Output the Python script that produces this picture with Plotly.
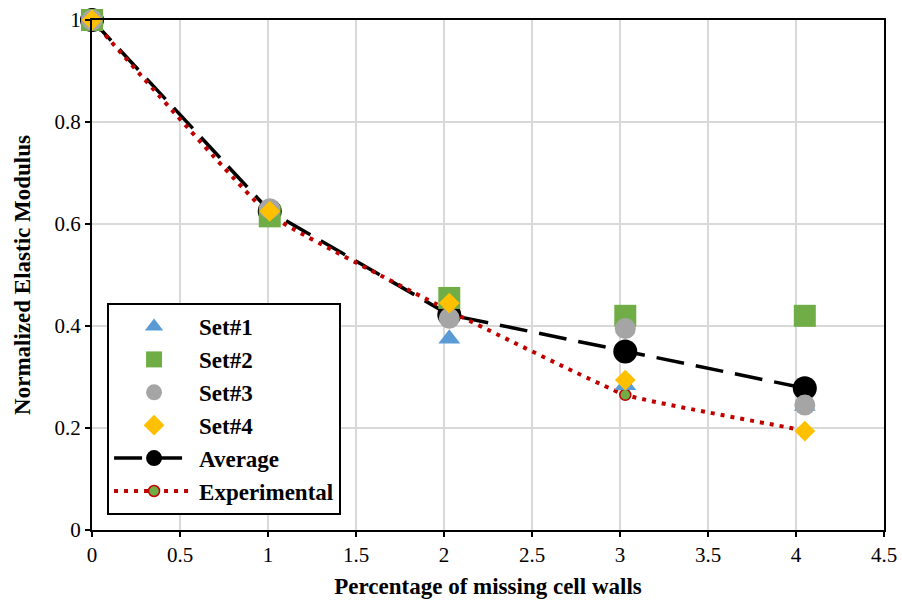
import plotly.graph_objects as go

# missing cell walls (%) for each set
x_pct = [0, 1.01, 2.03, 3.03, 4.05]

set1 = [1.0, 0.62, 0.375, 0.284, 0.243]
set2 = [1.0, 0.615, 0.455, 0.42, 0.42]
set3 = [1.0, 0.63, 0.415, 0.395, 0.245]
set4 = [1.0, 0.625, 0.445, 0.294, 0.194]
average = [1.0, 0.625, 0.422, 0.35, 0.278]
experimental = [1.0, 0.618, 0.43, 0.265, 0.195]

FONT = "Liberation Serif"

fig = go.Figure()

fig.add_trace(
    go.Scatter(
        x=x_pct, y=average, name="Average", mode="lines+markers",
        line=dict(color="black", width=3.5, dash="28px,12px"),
        marker=dict(symbol="circle", size=24, color="black"),
        legendrank=5, cliponaxis=False,
    )
)
fig.add_trace(
    go.Scatter(
        x=x_pct, y=experimental, name="Experimental", mode="lines+markers",
        line=dict(color="#c00000", width=4, dash="4px,6px", shape="spline", smoothing=0.3),
        marker=dict(symbol="circle", size=11, color="#70ad47",
                    line=dict(color="#c00000", width=1.5)),
        legendrank=6, cliponaxis=False,
    )
)
fig.add_trace(
    go.Scatter(
        x=x_pct, y=set1, name="Set#1", mode="markers",
        marker=dict(symbol="triangle-up", size=19, color="#5b9bd5"),
        legendrank=1, cliponaxis=False,
    )
)
fig.add_trace(
    go.Scatter(
        x=x_pct, y=set2, name="Set#2", mode="markers",
        marker=dict(symbol="square", size=22, color="#70ad47"),
        legendrank=2, cliponaxis=False,
    )
)
fig.add_trace(
    go.Scatter(
        x=x_pct, y=set3, name="Set#3", mode="markers",
        marker=dict(symbol="circle", size=21, color="#a5a5a5"),
        legendrank=3, cliponaxis=False,
    )
)
fig.add_trace(
    go.Scatter(
        x=x_pct, y=set4, name="Set#4", mode="markers",
        marker=dict(symbol="diamond", size=16, color="#ffc000"),
        legendrank=4, cliponaxis=False,
    )
)

axis_common = dict(
    showline=True, linecolor="black", linewidth=2, mirror=True,
    showgrid=True, gridcolor="#d9d9d9", gridwidth=2,
    ticks="outside", ticklen=5, tickcolor="black", tickwidth=1.5,
    zeroline=False, automargin=False,
    tickfont=dict(family=FONT, size=21, color="black"),
)

fig.update_xaxes(
    range=[0, 4.5], dtick=0.5, tick0=0,
    title=dict(text="<b>Percentage of missing cell walls</b>",
               font=dict(family=FONT, size=23, color="black"), standoff=12),
    **axis_common,
)
fig.update_yaxes(
    range=[0, 1], dtick=0.2, tick0=0,
    title=dict(text="<b>Normalized Elastic Modulus</b>",
               font=dict(family=FONT, size=23, color="black"), standoff=17),
    **axis_common,
)

fig.update_layout(
    width=902, height=609,
    margin=dict(l=92, r=18, t=20, b=79),
    plot_bgcolor="white", paper_bgcolor="white",
    font=dict(family=FONT, color="black"),
    legend=dict(
        x=0.019, y=0.445, xanchor="left", yanchor="top",
        bgcolor="white", bordercolor="black", borderwidth=2,
        font=dict(family=FONT, size=23, color="black", weight="bold"),
        itemwidth=80, entrywidth=245,
    ),
)

# drop the default 8px body margin so the figure fills the window exactly
fig.write_html(
    "out.html",
    config={"displayModeBar": False},
    post_script="document.body.style.margin='0';",
)
